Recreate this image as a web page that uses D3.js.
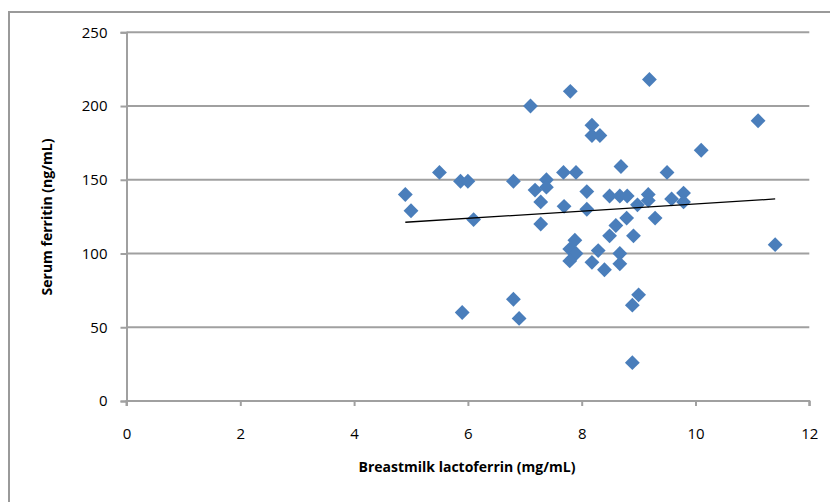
<!DOCTYPE html>
<html>
<head>
<meta charset="utf-8">
<script src="https://cdn.jsdelivr.net/npm/d3@7"></script>
<style>
	body { margin: 0; background: #fff; }
	text { font-family: 'Open Sans', 'Noto Sans', sans-serif; fill: #000; }
</style>
</head>
<body>
<svg id="chart" width="830" height="502"></svg>
<script>
// breastmilk lactoferrin (mg/mL)
const lactoferrin = [
	4.9, 5.0, 5.5, 5.87, 6.0, 5.9, 6.1, 6.8, 6.8, 6.9,
	7.1, 7.18, 7.28, 7.28, 7.38, 7.38, 7.68, 7.69, 7.8, 7.9,
	8.09, 8.09, 7.88, 7.79, 7.9, 7.79, 8.18, 8.18, 8.32, 8.69,
	8.49, 8.67, 8.8, 8.98, 9.17, 9.17, 9.29, 8.79, 8.6, 8.49,
	8.91, 8.29, 8.18, 8.4, 8.67, 8.67, 9.19, 9.0, 8.89, 8.89,
	9.5, 10.1, 11.1, 11.4, 9.58, 9.79, 9.79
];
// serum ferritin (ng/mL)
const ferritin = [
	140, 129, 155, 149, 149, 60, 123, 149, 69, 56,
	200, 143, 135, 120, 150, 145, 155, 132, 210, 155,
	142, 130, 109, 103, 100, 95, 187, 180, 180, 159,
	139, 139, 139, 133, 140, 136, 124, 124, 119, 112,
	112, 102, 94, 89, 100, 93, 218, 72, 65, 26,
	155, 170, 190, 106, 137, 141, 135
];
// linear trendline end points
const trendX = [4.9, 11.4];
const trendY = [121.2, 137];

const xTicks = [0, 2, 4, 6, 8, 10, 12];
const yTicks = [0, 50, 100, 150, 200, 250];

const svg = d3.select('#chart');
const axisColor = '#a0a0a0';

// chart frame
svg.append('rect')
	.attr('x', 9).attr('y', 12)
	.attr('width', 840).attr('height', 520)
	.attr('fill', 'none')
	.attr('stroke', '#9a9a9a')
	.attr('stroke-width', 2);

const x = d3.scaleLinear().domain([0, 12]).range([126.5, 809.3]);
const y = d3.scaleLinear().domain([0, 250]).range([401, 32.3]);

// horizontal gridlines
svg.append('g')
	.selectAll('line')
	.data(yTicks.filter(d => d > 0))
	.join('line')
	.attr('x1', x(0)).attr('x2', x(12))
	.attr('y1', d => y(d)).attr('y2', d => y(d))
	.attr('stroke', axisColor)
	.attr('stroke-width', 2);

// y axis
const yAxis = svg.append('g')
	.attr('transform', `translate(${x(0)},0)`)
	.call(d3.axisLeft(y).tickValues(yTicks).tickSize(6).tickPadding(13));
// x axis
const xAxis = svg.append('g')
	.attr('transform', `translate(0,${y(0)})`)
	.call(d3.axisBottom(x).tickValues(xTicks).tickSize(5).tickPadding(22));

[yAxis, xAxis].forEach(ax => {
	ax.select('.domain').attr('stroke', axisColor).attr('stroke-width', 2);
	ax.selectAll('.tick line').attr('stroke', axisColor).attr('stroke-width', 2);
	ax.selectAll('.tick text')
		.style('font-size', '15px')
		.style('font-family', "'Open Sans', 'Noto Sans', sans-serif")
		.attr('fill', '#000');
});
xAxis.select('.domain').attr('d', `M${x(0)},5V0H${x(12)}V5`);

// points (diamonds = squares turned 45deg)
svg.append('g')
	.selectAll('path')
	.data(lactoferrin.map((d, i) => ({ lx: d, sf: ferritin[i] })))
	.join('path')
	.attr('d', d3.symbol().type(d3.symbolSquare).size(110))
	.attr('transform', d => `translate(${x(d.lx)},${y(d.sf)}) rotate(45)`)
	.attr('fill', '#4a7ebb');

// trendline
svg.append('line')
	.attr('x1', x(trendX[0])).attr('y1', y(trendY[0]))
	.attr('x2', x(trendX[1])).attr('y2', y(trendY[1]))
	.attr('stroke', '#000')
	.attr('stroke-width', 1.3);

// axis titles
svg.append('text')
	.attr('x', 467).attr('y', 472)
	.attr('text-anchor', 'middle')
	.style('font-size', '14px')
	.style('font-weight', 'bold')
	.text('Breastmilk lactoferrin (mg/mL)');

svg.append('text')
	.attr('transform', 'translate(52,217) rotate(-90)')
	.attr('text-anchor', 'middle')
	.style('font-size', '14px')
	.style('font-weight', 'bold')
	.text('Serum ferritin (ng/mL)');
</script>
</body>
</html>
